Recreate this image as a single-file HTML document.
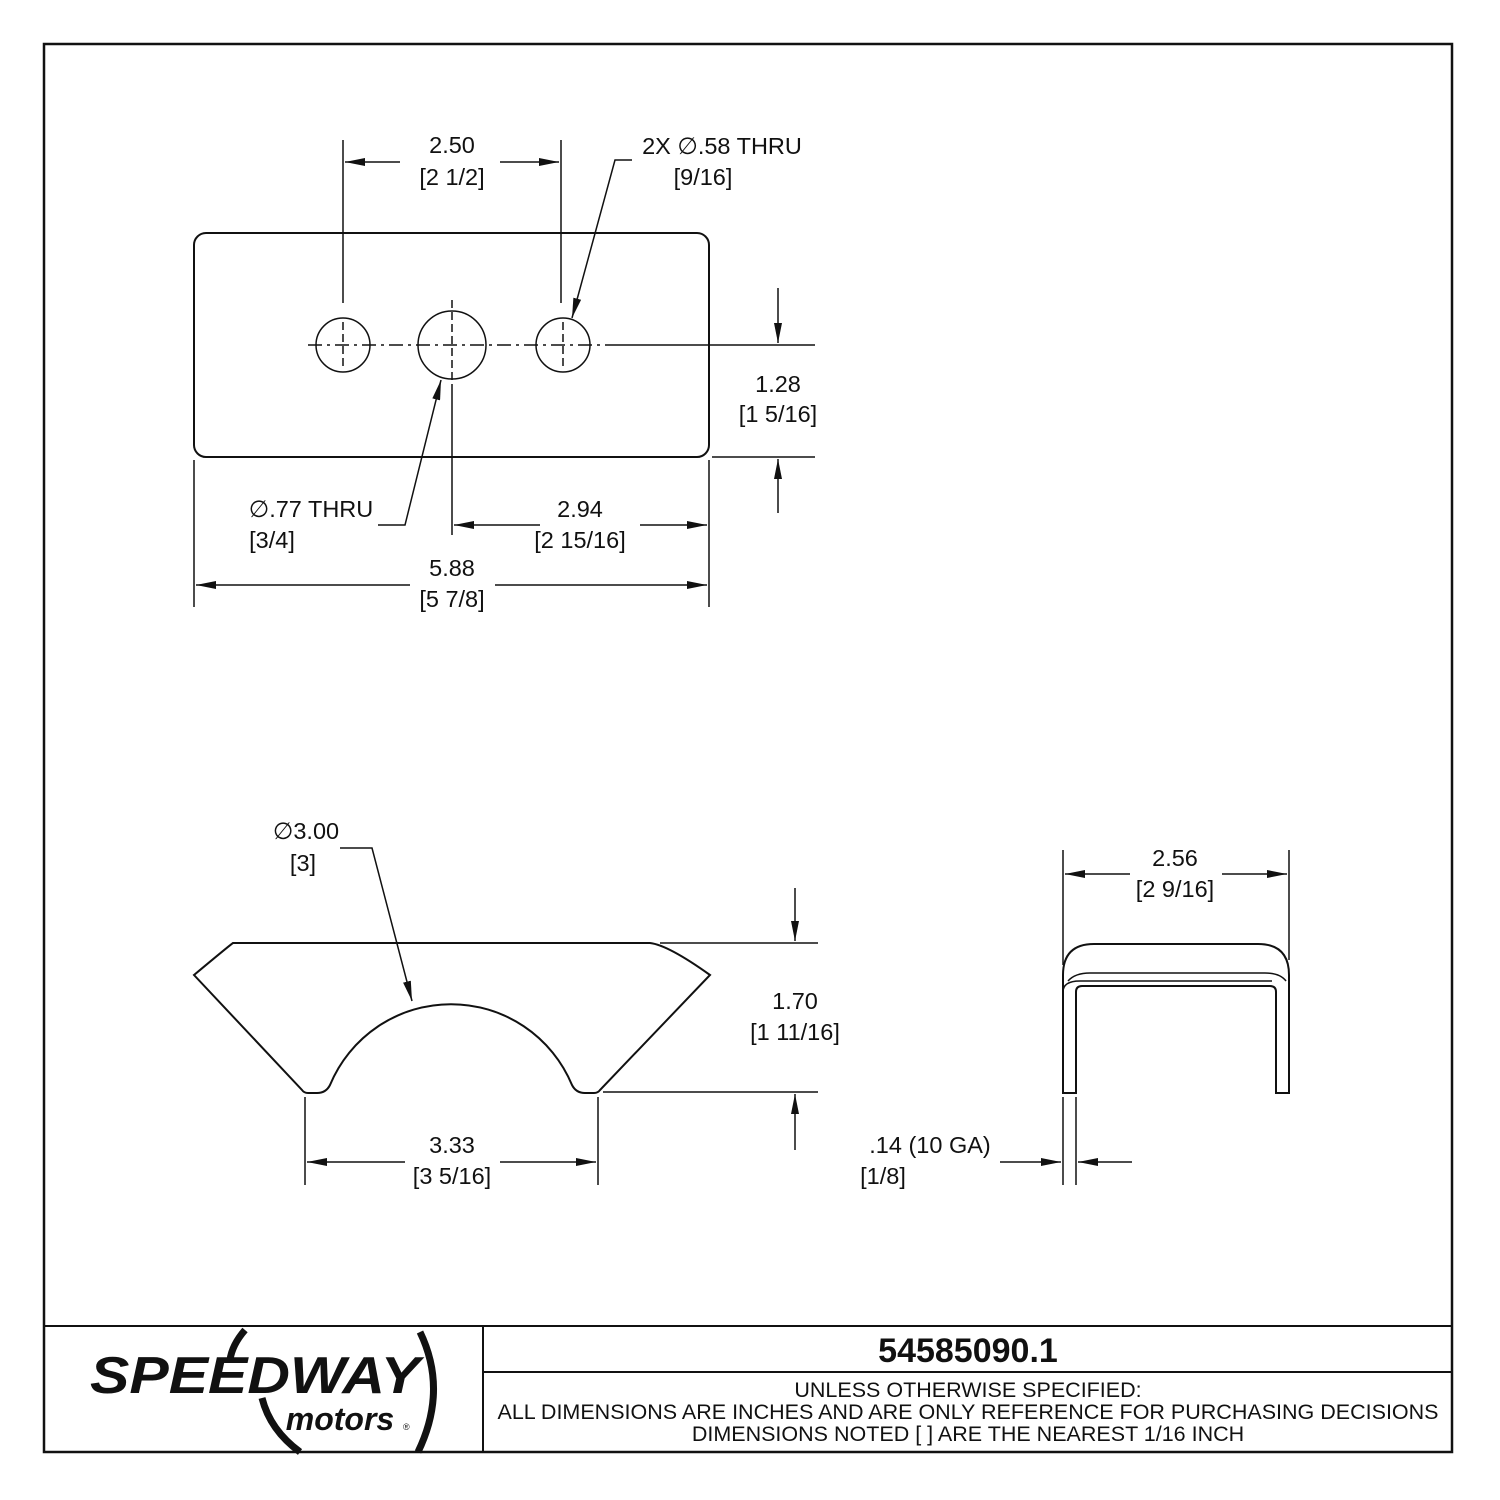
<!DOCTYPE html>
<html><head><meta charset="utf-8"><style>
html,body{margin:0;padding:0;background:#fff;}
svg{display:block;}
text{font-family:"Liberation Sans",sans-serif;fill:#111;}
</style></head><body>
<svg width="1500" height="1500" viewBox="0 0 1500 1500" xmlns="http://www.w3.org/2000/svg">
<defs>
<marker id="a" viewBox="0 0 20 8" refX="20" refY="4" markerWidth="20" markerHeight="8" markerUnits="userSpaceOnUse" orient="auto"><path d="M0,0 L20,4 L0,8 Z" fill="#111"/></marker>
</defs>
<g fill="none" stroke="#111" stroke-width="2">
<rect x="44" y="44" width="1408" height="1408" stroke-width="2.5"/>
<line x1="44" y1="1326" x2="1452" y2="1326"/>
<line x1="483" y1="1326" x2="483" y2="1452"/>
<line x1="483" y1="1372" x2="1452" y2="1372"/>

<rect x="194" y="233" width="515" height="224" rx="12"/>
<g stroke-width="1.5">
<circle cx="343" cy="345" r="27"/><circle cx="452" cy="345" r="34"/><circle cx="563" cy="345" r="27"/>
<line x1="308" y1="345" x2="603" y2="345" stroke-dasharray="14,5,3,5"/>
<line x1="343" y1="322" x2="343" y2="368" stroke-dasharray="8,4"/>
<line x1="452" y1="300" x2="452" y2="392" stroke-dasharray="8,4"/>
<line x1="563" y1="322" x2="563" y2="368" stroke-dasharray="8,4"/>
<line x1="343" y1="140" x2="343" y2="303"/>
<line x1="561" y1="140" x2="561" y2="303"/>
<line x1="400" y1="162" x2="345" y2="162" marker-end="url(#a)"/>
<line x1="500" y1="162" x2="559" y2="162" marker-end="url(#a)"/>
<polyline points="632,160 615,160 572,318" marker-end="url(#a)"/>
<line x1="605" y1="345" x2="815" y2="345"/>
<line x1="712" y1="457" x2="815" y2="457"/>
<line x1="778" y1="288" x2="778" y2="343" marker-end="url(#a)"/>
<line x1="778" y1="513" x2="778" y2="459" marker-end="url(#a)"/>
<polyline points="378,525 405,525 441,380" marker-end="url(#a)"/>
<line x1="452" y1="392" x2="452" y2="535"/>
<line x1="709" y1="460" x2="709" y2="607"/>
<line x1="540" y1="525" x2="454" y2="525" marker-end="url(#a)"/>
<line x1="640" y1="525" x2="707" y2="525" marker-end="url(#a)"/>
<line x1="194" y1="460" x2="194" y2="607"/>
<line x1="410" y1="585" x2="196" y2="585" marker-end="url(#a)"/>
<line x1="495" y1="585" x2="707" y2="585" marker-end="url(#a)"/>
</g>

<path d="M233,943 L650,943 Q668,945 710,975 L600,1090 Q598,1093 594,1093 L585,1093 Q576,1093 572,1085 A131,131 0 0 0 330,1085 Q326,1093 317,1093 L308,1093 Q304,1093 302,1090 L194,975 Q230,945 233,943 Z"/>
<g stroke-width="1.5">
<line x1="660" y1="943" x2="818" y2="943"/>
<line x1="603" y1="1092" x2="818" y2="1092"/>
<line x1="795" y1="888" x2="795" y2="941" marker-end="url(#a)"/>
<line x1="795" y1="1150" x2="795" y2="1094" marker-end="url(#a)"/>
<line x1="305" y1="1097" x2="305" y2="1185"/>
<line x1="598" y1="1097" x2="598" y2="1185"/>
<line x1="405" y1="1162" x2="307" y2="1162" marker-end="url(#a)"/>
<line x1="500" y1="1162" x2="596" y2="1162" marker-end="url(#a)"/>
<polyline points="340,848 372,848 412,1001" marker-end="url(#a)"/>
</g>

<path d="M1063,1093 L1063,975 Q1063,944 1094,944 L1258,944 Q1289,944 1289,975 L1289,1093 L1276,1093 L1276,992 Q1276,986 1270,986 L1082,986 Q1076,986 1076,992 L1076,1093 Z"/>
<path d="M1063,992 Q1063,981 1080,981 L1272,981" stroke-width="1.5"/>
<path d="M1068,981 Q1075,973 1090,973 L1265,973 Q1280,973 1286,981" stroke-width="1.5"/>
<g stroke-width="1.5">
<line x1="1063" y1="850" x2="1063" y2="965"/>
<line x1="1289" y1="850" x2="1289" y2="960"/>
<line x1="1130" y1="874" x2="1065" y2="874" marker-end="url(#a)"/>
<line x1="1222" y1="874" x2="1287" y2="874" marker-end="url(#a)"/>
<line x1="1063" y1="1097" x2="1063" y2="1185"/>
<line x1="1076" y1="1097" x2="1076" y2="1185"/>
<line x1="1000" y1="1162" x2="1061" y2="1162" marker-end="url(#a)"/>
<line x1="1132" y1="1162" x2="1078" y2="1162" marker-end="url(#a)"/>
</g>
<path d="M245,1330 Q232,1345 230,1360" stroke-width="7"/>
<path d="M420,1332 Q448,1390 418,1452" stroke-width="7"/>
<path d="M262,1398 Q270,1430 300,1452" stroke-width="7"/>
</g>

<g font-size="23.5" text-anchor="middle">
<text x="452" y="153">2.50</text><text x="452" y="185">[2 1/2]</text>
<text x="722" y="154">2X ∅.58 THRU</text><text x="703" y="185">[9/16]</text>
<text x="778" y="392">1.28</text><text x="778" y="422">[1 5/16]</text>
<text x="311" y="517">∅.77 THRU</text><text x="272" y="548">[3/4]</text>
<text x="580" y="517">2.94</text><text x="580" y="548">[2 15/16]</text>
<text x="452" y="576">5.88</text><text x="452" y="607">[5 7/8]</text>
<text x="306" y="839">∅3.00</text><text x="303" y="871">[3]</text>
<text x="795" y="1009">1.70</text><text x="795" y="1040">[1 11/16]</text>
<text x="452" y="1153">3.33</text><text x="452" y="1184">[3 5/16]</text>
<text x="1175" y="866">2.56</text><text x="1175" y="897">[2 9/16]</text>
<text x="930" y="1153">.14  (10 GA)</text><text x="883" y="1184">[1/8]</text>
</g>
<text x="968" y="1362" font-size="34" font-weight="bold" text-anchor="middle">54585090.1</text>
<g font-size="21.5" text-anchor="middle">
<text x="968" y="1397">UNLESS OTHERWISE SPECIFIED:</text>
<text x="968" y="1419">ALL DIMENSIONS ARE INCHES AND ARE ONLY REFERENCE FOR PURCHASING DECISIONS</text>
<text x="968" y="1441">DIMENSIONS NOTED [ ] ARE THE NEAREST 1/16 INCH</text>
</g>
<text x="255" y="1393" font-size="52" font-weight="bold" font-style="italic" text-anchor="middle" textLength="330" lengthAdjust="spacingAndGlyphs">SPEEDWAY</text>
<text x="340" y="1430" font-size="32" font-weight="bold" font-style="italic" text-anchor="middle">motors</text>
<text x="403" y="1430" font-size="9">®</text>
</svg>
</body></html>
